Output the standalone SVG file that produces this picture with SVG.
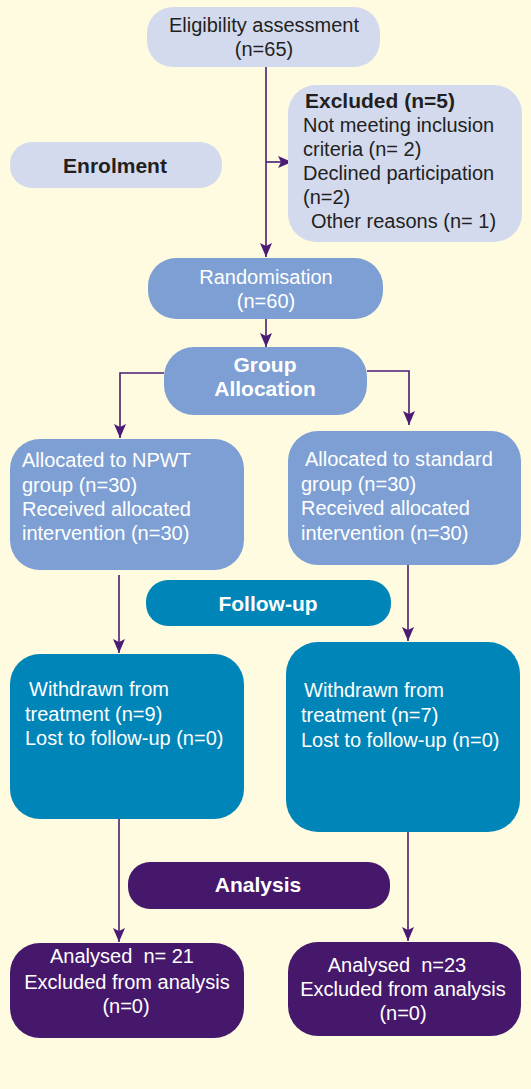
<svg xmlns="http://www.w3.org/2000/svg" width="531" height="1089" viewBox="0 0 531 1089">
<style>
text{font-family:"Liberation Sans",Arial,sans-serif;font-size:20px}
.dk{fill:#231F20}
.wt{fill:#FFFFFF}
.b{font-weight:bold;font-size:21px}
.c{text-anchor:middle}
.lav{fill:#D3DAEE}
.blu{fill:#7D9FD3}
.tea{fill:#0085B8}
.pur{fill:#45186B}
.ln{fill:none;stroke:#4B1C74;stroke-width:1.6}
</style>
<defs>
<marker id="ah" viewBox="0 0 14 12" refX="14" refY="6" markerWidth="14" markerHeight="12" orient="auto" markerUnits="userSpaceOnUse">
<path d="M0,0 L14,6 L0,12 L3,6 Z" fill="#4B1C74"/>
</marker>
</defs>
<rect width="531" height="1089" fill="#FFFBE1"/>
<g id="connectors">
<path class="ln" d="M266,67 V257" marker-end="url(#ah)"/>
<path class="ln" d="M266,162 H292" marker-end="url(#ah)"/>
<path class="ln" d="M266,319 V347" marker-end="url(#ah)"/>
<path class="ln" d="M164,373 H120 V438" marker-end="url(#ah)"/>
<path class="ln" d="M367,371 H409 V425" marker-end="url(#ah)"/>
<path class="ln" d="M119,575 V653" marker-end="url(#ah)"/>
<path class="ln" d="M408,565 V641" marker-end="url(#ah)"/>
<path class="ln" d="M119,819 V942" marker-end="url(#ah)"/>
<path class="ln" d="M408,832 V941" marker-end="url(#ah)"/>
</g>
<g id="eligibility">
<rect class="lav" x="147" y="7" width="233" height="60" rx="26"/>
<text class="dk c" x="264" y="32">Eligibility assessment</text>
<text class="dk c" x="264" y="56">(n=65)</text>
</g>
<g id="excluded">
<rect class="lav" x="288" y="85" width="234" height="157" rx="28"/>
<text class="dk b" x="305" y="108">Excluded (n=5)</text>
<text class="dk" x="303" y="132">Not meeting inclusion</text>
<text class="dk" x="303" y="156">criteria (n= 2)</text>
<text class="dk" x="303" y="180">Declined participation</text>
<text class="dk" x="303" y="204">(n=2)</text>
<text class="dk" x="311" y="228">Other reasons (n= 1)</text>
</g>
<g id="enrolment">
<rect class="lav" x="10" y="142" width="212" height="46" rx="22"/>
<text class="dk b c" x="115" y="173">Enrolment</text>
</g>
<g id="randomisation">
<rect class="blu" x="148" y="258" width="235" height="61" rx="28"/>
<text class="wt c" x="266" y="284">Randomisation</text>
<text class="wt c" x="266" y="308">(n=60)</text>
</g>
<g id="group-allocation">
<rect class="blu" x="164" y="347" width="203" height="68" rx="30"/>
<text class="wt b c" x="265" y="372">Group</text>
<text class="wt b c" x="265" y="396">Allocation</text>
</g>
<g id="npwt">
<rect class="blu" x="10" y="439" width="234" height="131" rx="30"/>
<text class="wt" x="22" y="467">Allocated to NPWT</text>
<text class="wt" x="22" y="492">group (n=30)</text>
<text class="wt" x="22" y="516">Received allocated</text>
<text class="wt" x="22" y="540">intervention (n=30)</text>
</g>
<g id="standard">
<rect class="blu" x="288" y="431" width="233" height="134" rx="30"/>
<text class="wt" x="305" y="466">Allocated to standard</text>
<text class="wt" x="301" y="491">group (n=30)</text>
<text class="wt" x="301" y="515">Received allocated</text>
<text class="wt" x="301" y="540">intervention (n=30)</text>
</g>
<g id="follow-up">
<rect class="tea" x="146" y="580" width="245" height="46" rx="22"/>
<text class="wt b c" x="268" y="611">Follow-up</text>
</g>
<g id="withdrawn-npwt">
<rect class="tea" x="10" y="654" width="234" height="165" rx="30"/>
<text class="wt" x="29" y="696">Withdrawn from</text>
<text class="wt" x="25" y="721">treatment (n=9)</text>
<text class="wt" x="25" y="745">Lost to follow-up (n=0)</text>
</g>
<g id="withdrawn-standard">
<rect class="tea" x="286" y="642" width="234" height="190" rx="32"/>
<text class="wt" x="304" y="697">Withdrawn from</text>
<text class="wt" x="301" y="722">treatment (n=7)</text>
<text class="wt" x="301" y="747">Lost to follow-up (n=0)</text>
</g>
<g id="analysis">
<rect class="pur" x="128" y="862" width="262" height="47" rx="22"/>
<text class="wt b c" x="258" y="892">Analysis</text>
</g>
<g id="analysed-npwt">
<rect class="pur" x="10" y="943" width="234" height="95" rx="30"/>
<text class="wt c" x="122" y="963" xml:space="preserve">Analysed  n= 21</text>
<text class="wt c" x="127" y="989">Excluded from analysis</text>
<text class="wt c" x="126" y="1013">(n=0)</text>
</g>
<g id="analysed-standard">
<rect class="pur" x="288" y="942" width="233" height="94" rx="30"/>
<text class="wt c" x="397" y="972" xml:space="preserve">Analysed  n=23</text>
<text class="wt c" x="403" y="996">Excluded from analysis</text>
<text class="wt c" x="403" y="1020">(n=0)</text>
</g>
</svg>
